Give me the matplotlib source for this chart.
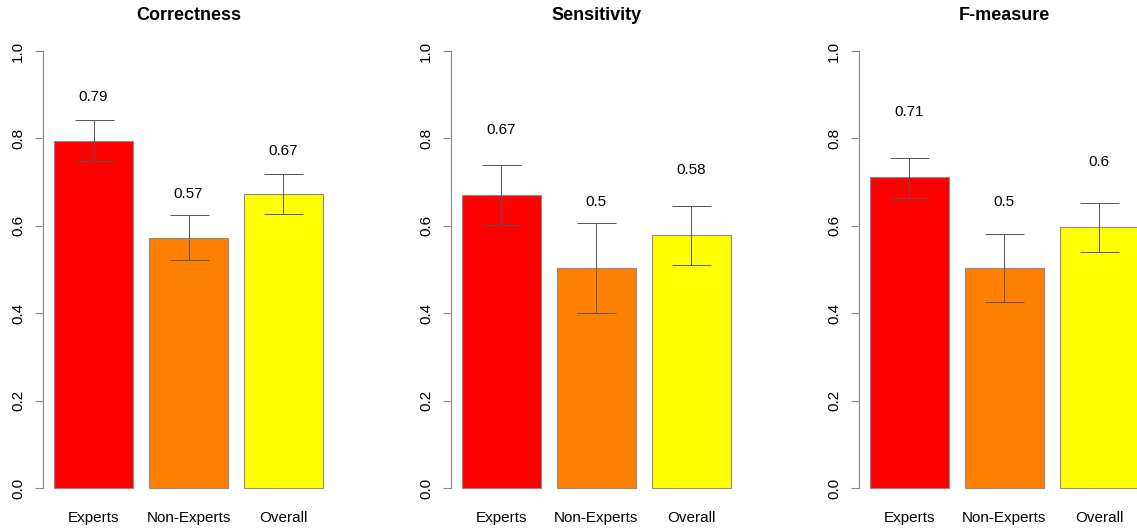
import matplotlib
matplotlib.use("Agg")
import matplotlib.pyplot as plt
import numpy as np

plt.rcParams['font.family'] = ['Liberation Sans', 'DejaVu Sans']

# 数据
groups = ["Experts", "Non-Experts", "Overall"]
titles = ["Correctness", "Sensitivity", "F-measure"]
means = [
    [0.795, 0.573, 0.672],
    [0.670, 0.504, 0.578],
    [0.711, 0.504, 0.597],
]
err_low = [
    [0.748, 0.521, 0.626],
    [0.602, 0.401, 0.511],
    [0.664, 0.426, 0.541],
]
err_high = [
    [0.841, 0.625, 0.719],
    [0.738, 0.606, 0.646],
    [0.756, 0.582, 0.652],
]
bar_labels = [
    ["0.79", "0.57", "0.67"],
    ["0.67", "0.5", "0.58"],
    ["0.71", "0.5", "0.6"],
]
label_offset = [0.1, 0.15, 0.15]
colors = ["#FF0000", "#FF8000", "#FFFF00"]

W, H = 1137, 530
fig = plt.figure(figsize=(W / 100, H / 100), dpi=100)

lefts = [43.2, 451.0, 859.0]
x = 0.2 + np.arange(3) * 1.2 + 0.5  # R barplot 位置

for i in range(3):
    ax = fig.add_axes([lefts[i] / W, (H - 505.5) / H, 290.6 / W, 472 / H])
    ax.bar(x, means[i], width=1.0, color=colors, edgecolor="#8c8c8c", linewidth=0.8)
    m = np.array(means[i])
    yerr = [m - np.array(err_low[i]), np.array(err_high[i]) - m]
    ax.errorbar(x, m, yerr=yerr, fmt="none", ecolor="#555555", elinewidth=0.7,
                capsize=19.5 * 0.72, capthick=0.7, zorder=3)
    for xi, mi, lab in zip(x, m, bar_labels[i]):
        ax.text(xi, mi + label_offset[i], lab, ha="center", va="center", fontsize=11)
    ax.set_xlim(0.064, 3.736)
    ax.set_ylim(-0.04, 1.04)
    for s in ["top", "right", "bottom"]:
        ax.spines[s].set_visible(False)
    ax.spines["left"].set_bounds(0, 1)
    ax.spines["left"].set_color("#888888")
    ax.set_yticks(np.arange(0, 1.01, 0.2))
    ax.set_yticklabels(["0.0", "0.2", "0.4", "0.6", "0.8", "1.0"], rotation=90, va="center")
    ax.tick_params(axis="y", length=6, color="#888888", labelsize=11, pad=7)
    ax.set_xticks(x)
    ax.set_xticklabels(groups)
    ax.tick_params(axis="x", length=0, labelsize=11, pad=4)
    ax.set_title(titles[i], fontsize=13, fontweight="bold", pad=10)

fig.savefig("out.png", dpi=100)
